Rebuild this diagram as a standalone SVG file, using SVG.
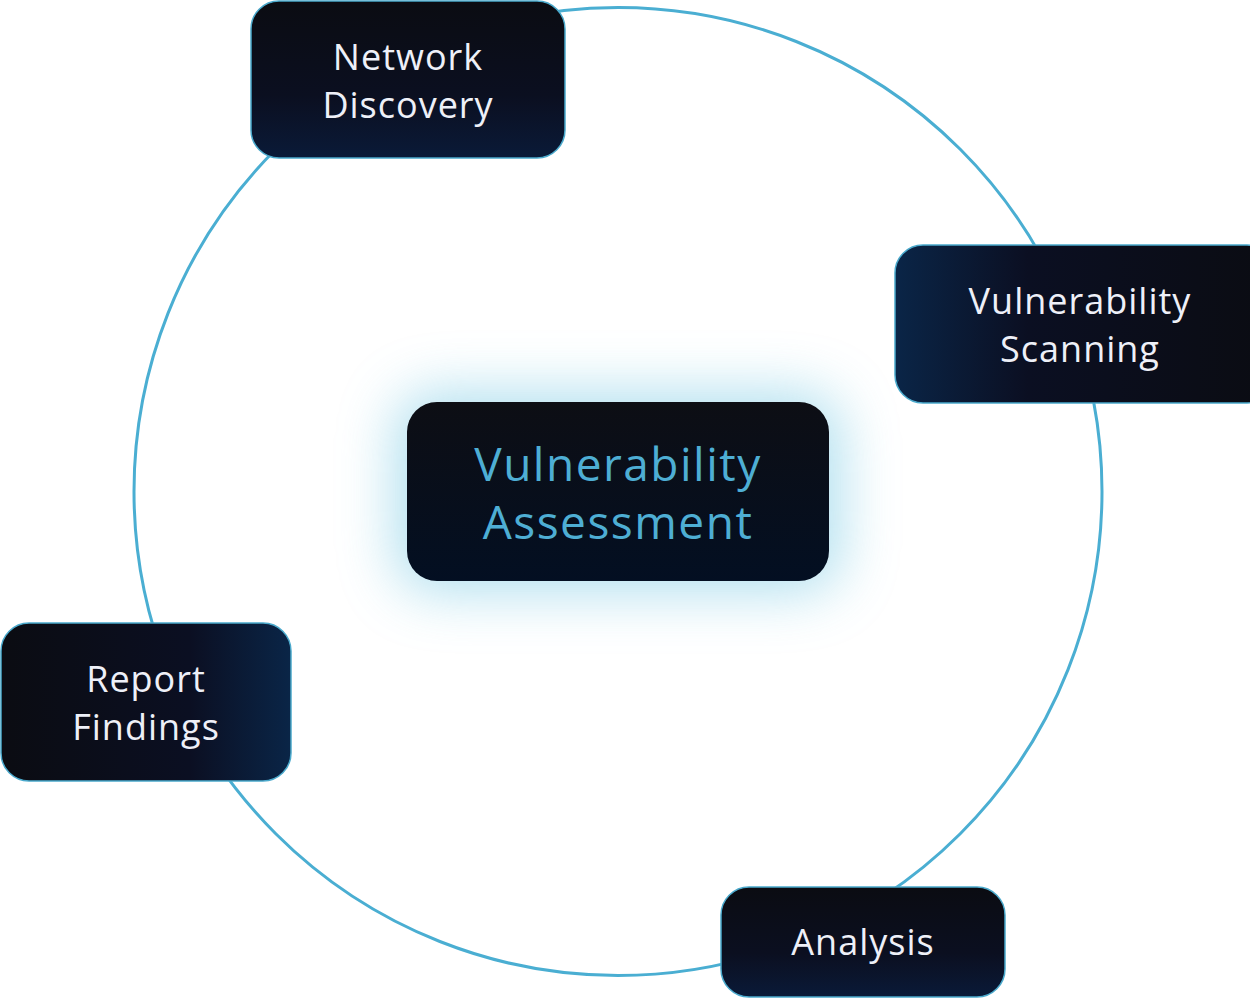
<svg xmlns="http://www.w3.org/2000/svg" width="1250" height="998" viewBox="0 0 1250 998">
<style>
.n{stroke:#4aa9cc;stroke-width:1.5}
.t{font-family:"Open Sans","Liberation Sans",sans-serif;font-size:36px;fill:#eef0f8;text-anchor:middle;letter-spacing:1px}
.c{font-family:"Open Sans","Liberation Sans",sans-serif;font-size:46px;fill:#4eaed4;text-anchor:middle;letter-spacing:1.5px}
</style>
<defs>
<linearGradient id="gl" x1="0" y1="0" x2="1" y2="0"><stop offset="0" stop-color="#0a2547"/><stop offset="0.35" stop-color="#0b0f22"/><stop offset="1" stop-color="#0b0c12"/></linearGradient>
<linearGradient id="gr" x1="1" y1="0" x2="0" y2="0"><stop offset="0" stop-color="#0a2547"/><stop offset="0.35" stop-color="#0b0f22"/><stop offset="1" stop-color="#0b0c12"/></linearGradient>
<linearGradient id="gb" x1="0" y1="0" x2="0" y2="1"><stop offset="0" stop-color="#0b0c12"/><stop offset="0.6" stop-color="#0b0f20"/><stop offset="1" stop-color="#0a1a38"/></linearGradient>
<linearGradient id="gc" x1="0" y1="0" x2="0" y2="1"><stop offset="0" stop-color="#0d0e14"/><stop offset="1" stop-color="#030f22"/></linearGradient>
<filter id="glow" x="-50%" y="-60%" width="200%" height="220%"><feGaussianBlur stdDeviation="28"/></filter>
</defs>
<g id="connectors"><circle cx="618" cy="491.5" r="484" fill="none" stroke="#4aaed2" stroke-width="3"/></g>
<g id="center">
<rect x="395" y="392" width="446" height="200" rx="40" fill="#8fd2e8" opacity="0.7" filter="url(#glow)"/>
<rect x="407" y="402" width="422" height="179" rx="30" fill="url(#gc)"/>
<text class="c" x="618" y="481">Vulnerability</text>
<text class="c" x="618" y="539">Assessment</text>
</g>
<g id="network-discovery">
<rect class="n" x="251" y="1" width="314" height="157" rx="28" fill="url(#gb)"/>
<text class="t" x="408" y="70">Network</text>
<text class="t" x="408" y="118">Discovery</text>
</g>
<g id="vulnerability-scanning">
<rect class="n" x="895" y="245" width="380" height="158" rx="28" fill="url(#gl)"/>
<text class="t" x="1080" y="314">Vulnerability</text>
<text class="t" x="1080" y="362">Scanning</text>
</g>
<g id="analysis">
<rect class="n" x="721" y="887" width="284" height="110" rx="28" fill="url(#gb)"/>
<text class="t" x="863" y="955">Analysis</text>
</g>
<g id="report-findings">
<rect class="n" x="1" y="623" width="290" height="158" rx="28" fill="url(#gr)"/>
<text class="t" x="146" y="692">Report</text>
<text class="t" x="146" y="740">Findings</text>
</g>
</svg>
